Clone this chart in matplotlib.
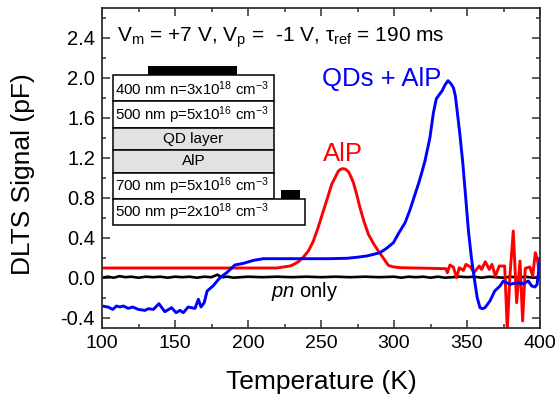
import matplotlib
matplotlib.use('Agg')
import matplotlib.pyplot as plt
from matplotlib.patches import Rectangle
from matplotlib.ticker import MultipleLocator

plt.rcParams['font.family'] = ['Liberation Sans', 'DejaVu Sans']
plt.rcParams['mathtext.fontset'] = 'custom'
plt.rcParams['mathtext.rm'] = 'Liberation Sans'
plt.rcParams['mathtext.it'] = 'Liberation Sans:italic'
plt.rcParams['mathtext.default'] = 'regular'

# values
black_t = [100, 104, 108, 112, 116, 120, 125, 130, 135, 140, 145, 150, 155, 160, 165, 170, 175, 179, 182,
           186, 190, 200, 210, 220, 230, 240, 250, 260, 270, 280, 290, 300, 305, 310, 315, 320, 325, 330,
           335, 340, 345, 350, 355, 360, 365, 370, 375, 380, 385, 390, 395, 400]
black_v = [0.0, 0.01, 0.0, 0.015, 0.005, 0.01, 0.0, 0.01, 0.005, 0.01, 0.0, 0.01, 0.005, 0.01, 0.0, 0.01, 0.005, 0.03, 0.005,
           0.01, 0.0, 0.01, 0.005, 0.01, 0.005, 0.01, 0.005, 0.01, 0.005, 0.01, 0.005, 0.01, 0.0, 0.01, 0.005, 0.01, 0.0, 0.01,
           0.0, 0.005, 0.01, 0.005, 0.01, 0.0, 0.01, 0.005, 0.0, 0.01, 0.0, 0.01, 0.0, 0.005]

red_t = [100, 130, 160, 190, 219.6, 228.8, 231, 234.5, 238, 241.5, 244.8, 248, 251.6, 254.5, 257.3, 259.6, 261.9, 263.5,
         264.9, 266.8, 268.8, 270.5, 272.2, 274.5, 276.7, 279.5, 282.5, 286, 289.3, 292.5, 296.1, 299, 304.1, 324.7,
         335.6, 336.5, 338.3, 340.6, 342.9, 344.7, 347.5, 349.3, 352.5, 354.8,
         358.4, 360, 362.5, 365.3, 367.1, 369.4, 372.1, 375.8, 377.6, 379.4, 381.7, 384, 386.3, 388.1, 389.9,
         393.1, 395, 396.8, 398.2, 400]
red_v = [0.097, 0.097, 0.097, 0.097, 0.097, 0.117, 0.13, 0.16, 0.207, 0.27, 0.367, 0.5, 0.667, 0.8, 0.933, 1.0, 1.067, 1.085,
         1.09, 1.085, 1.06, 1.01, 0.95, 0.83, 0.70, 0.56, 0.433, 0.34, 0.267, 0.2, 0.124, 0.11, 0.10, 0.094,
         0.09, 0.05, 0.127, 0.107, 0.0, 0.1, 0.073, 0.133, 0.107, 0.05,
         0.117, 0.083, 0.16, 0.083, 0.133, 0.017, 0.117, 0.117, -0.517, 0.017, 0.467, -0.25, 0.167, -0.433, 0.093,
         0.107, 0.017, 0.25, 0.183, 0.0]

blue_t = [100, 104.3, 107.3, 110, 112.3, 114.6, 118, 121, 124.9, 129.5, 131.7, 135.2, 139, 143, 147.7, 150.7, 153.4,
          155.7, 159, 163.7, 166, 167.8, 170, 172, 176, 180.8, 185.4, 191, 196.8, 203.6, 210.5, 228.8, 240, 255, 267.6,
          275, 281.3, 285, 290.4, 295, 299.6, 303, 307.6, 311, 314.4, 317, 319, 321.2, 324.6, 327, 329, 331, 333, 335,
          337, 339, 340.7, 342, 343, 345, 347, 349, 351, 353, 355, 357, 358.9, 360.5, 362.3, 365.7, 369,
          372.6, 374.9, 379.4, 384, 388.6, 392, 394.3, 396.6, 398, 400]
blue_v = [-0.283, -0.294, -0.317, -0.283, -0.293, -0.283, -0.307, -0.293, -0.317, -0.327, -0.31, -0.317, -0.26, -0.34, -0.30, -0.35, -0.327,
          -0.35, -0.293, -0.307, -0.216, -0.293, -0.25, -0.133, -0.083, 0.0, 0.05, 0.127, 0.143, 0.173, 0.19, 0.19, 0.19, 0.19, 0.194,
          0.205, 0.217, 0.23, 0.25, 0.295, 0.35, 0.44, 0.55, 0.68, 0.834, 0.95, 1.05, 1.167, 1.4, 1.65, 1.79, 1.83, 1.87, 1.93,
          1.97, 1.94, 1.9, 1.82, 1.7, 1.45, 1.167, 0.82, 0.467, 0.2, -0.01, -0.2, -0.30, -0.31, -0.30, -0.233, -0.133,
          -0.083, -0.033, -0.067, -0.05, -0.06, -0.033, -0.083, -0.093, -0.067, 0.183]

x_ticks = [100, 150, 200, 250, 300, 350, 400]
y_ticks = [-0.4, 0.0, 0.4, 0.8, 1.2, 1.6, 2.0, 2.4]

layer_labels = ['400 nm n=3x10$^{18}$ cm$^{-3}$', '500 nm p=5x10$^{16}$ cm$^{-3}$', 'QD layer', 'AlP',
                '700 nm p=5x10$^{16}$ cm$^{-3}$', '500 nm p=2x10$^{18}$ cm$^{-3}$']
layer_tops = [2.03, 1.77, 1.50, 1.28, 1.05, 0.79]
layer_bottoms = [1.77, 1.50, 1.28, 1.05, 0.79, 0.53]
layer_rights = [217.6, 217.6, 217.6, 217.6, 217.6, 239]
layer_colors = ['white', 'white', '#e2e2e2', '#e2e2e2', 'white', 'white']

fig = plt.figure(figsize=(5.58, 4.0), dpi=100)
ax = fig.add_axes([102 / 558, 1 - 327.7 / 400, 438 / 558, 320 / 400])

ax.plot(black_t, black_v, color='black', lw=1.9)
ax.plot(red_t, red_v, color='#ff0000', lw=2.1)
ax.plot(blue_t, blue_v, color='#0000ff', lw=2.1)

ax.set_xlim(100, 400)
ax.set_ylim(-0.5, 2.7)
ax.set_xticks(x_ticks)
ax.set_yticks(y_ticks)
ax.set_yticklabels(['-0.4', '0.0', '0.4', '0.8', '1.2', '1.6', '2.0', '2.4'])
ax.xaxis.set_minor_locator(MultipleLocator(25))
ax.yaxis.set_minor_locator(MultipleLocator(0.2))
ax.tick_params(which='major', direction='in', length=6, width=1.1, top=True, right=True, pad=5, color='#303030')
ax.tick_params(which='minor', direction='in', length=3, width=1.1, top=True, right=True, color='#303030')
ax.tick_params(axis='x', labelsize=14)
ax.tick_params(axis='y', labelsize=14.5)
for s in ax.spines.values():
    s.set_linewidth(1.3)
    s.set_color('#303030')
ax.set_xlabel('Temperature (K)', fontsize=19, labelpad=13)
ax.set_ylabel('DLTS Signal (pF)', fontsize=19)
ax.yaxis.set_label_coords(-0.153, 0.48)

# layer stack sketch
for lab, top, bot, right, col in zip(layer_labels, layer_tops, layer_bottoms, layer_rights, layer_colors):
    ax.add_patch(Rectangle((107.7, bot), right - 107.7, top - bot, fc=col, ec='black', lw=1.1, zorder=3))
    if lab in ('QD layer', 'AlP'):
        ax.text(162.6, (top + bot) / 2, lab, ha='center', va='center', fontsize=11, zorder=4)
    else:
        ax.text(109, (top + bot) / 2 - 0.01, lab, ha='left', va='center', fontsize=10.8, zorder=4)
ax.add_patch(Rectangle((131.7, 2.03), 61, 0.09, fc='black', ec='none', zorder=3))
ax.add_patch(Rectangle((222.4, 0.79), 13.2, 0.09, fc='black', ec='none', zorder=3))

ax.text(110, 2.357, r'V$_m$ = +7 V, V$_p$ =  -1 V, $\tau_{ref}$ = 190 ms', fontsize=15, ha='left', va='baseline')
ax.text(251.4, 1.167, 'AlP', color='#ff0000', fontsize=18.5)
ax.text(250.7, 1.917, 'QDs + AlP', color='#0000ff', fontsize=18.5)
ax.text(215.5, -0.19, r'$\mathit{pn}$ only', color='black', fontsize=14.5)

fig.savefig('out.png', dpi=100)
